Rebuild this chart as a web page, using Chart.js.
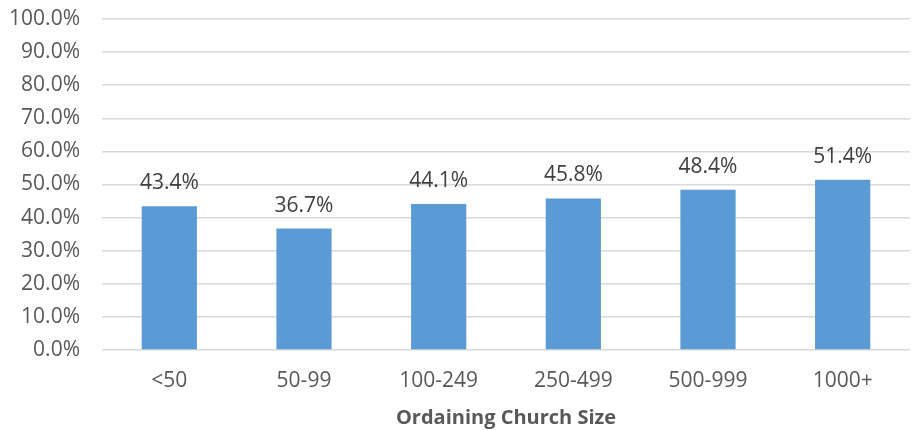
<!DOCTYPE html>
<html>
<head>
<meta charset="utf-8">
<script src="https://cdn.jsdelivr.net/npm/chart.js@4/dist/chart.umd.min.js"></script>
<style>
  html, body { margin: 0; padding: 0; background: #ffffff; }
  #wrap { width: 912px; height: 430px; }
</style>
</head>
<body>
<div id="wrap"><canvas id="c" width="912" height="430"></canvas></div>
<script>
const categories = ['<50', '50-99', '100-249', '250-499', '500-999', '1000+'];
const values = [43.4, 36.7, 44.1, 45.8, 48.4, 51.4];
const yTicks = [0, 10, 20, 30, 40, 50, 60, 70, 80, 90, 100];

const FONT = "'Open Sans', 'Liberation Sans', sans-serif";

// Writes each bar's value just above it
const valueLabels = {
  id: 'valueLabels',
  afterDatasetsDraw(chart) {
    const ctx = chart.ctx;
    const meta = chart.getDatasetMeta(0);
    ctx.save();
    ctx.font = '21px ' + FONT;
    ctx.fillStyle = '#404040';
    ctx.textAlign = 'center';
    ctx.textBaseline = 'alphabetic';
    meta.data.forEach((bar, i) => {
      ctx.fillText(values[i].toFixed(1) + '%', bar.x, bar.y - 17);
    });
    ctx.restore();
  }
};

new Chart(document.getElementById('c'), {
  type: 'bar',
  data: {
    labels: categories,
    datasets: [{
      data: values,
      backgroundColor: '#5b9bd5',
      categoryPercentage: 1.0,
      barPercentage: 0.41
    }]
  },
  options: {
    responsive: false,
    animation: false,
    layout: { padding: { top: 0, right: 2, left: 0, bottom: 0 } },
    plugins: { legend: { display: false }, tooltip: { enabled: false } },
    scales: {
      x: {
        afterFit(scale) { scale.height = 80; },
        grid: { display: false, drawTicks: false },
        border: { display: false },
        ticks: { color: '#595959', font: { family: FONT, size: 21 }, padding: 18 },
        title: {
          display: true,
          text: 'Ordaining Church Size',
          color: '#595959',
          font: { family: FONT, size: 20, weight: 'bold' },
          padding: { top: 10, bottom: 0 }
        }
      },
      y: {
        min: 0,
        max: 100,
        afterBuildTicks(scale) { scale.ticks = yTicks.map(v => ({ value: v })); },
        afterFit(scale) {
          scale.width = 102;
          scale.paddingTop = 19;
        },
        grid: { color: '#d9d9d9', lineWidth: 1.5, drawTicks: false },
        border: { display: false },
        ticks: {
          color: '#595959',
          font: { family: FONT, size: 21 },
          padding: 22,
          callback: v => v.toFixed(1) + '%'
        }
      }
    }
  },
  plugins: [valueLabels]
});
</script>
</body>
</html>
